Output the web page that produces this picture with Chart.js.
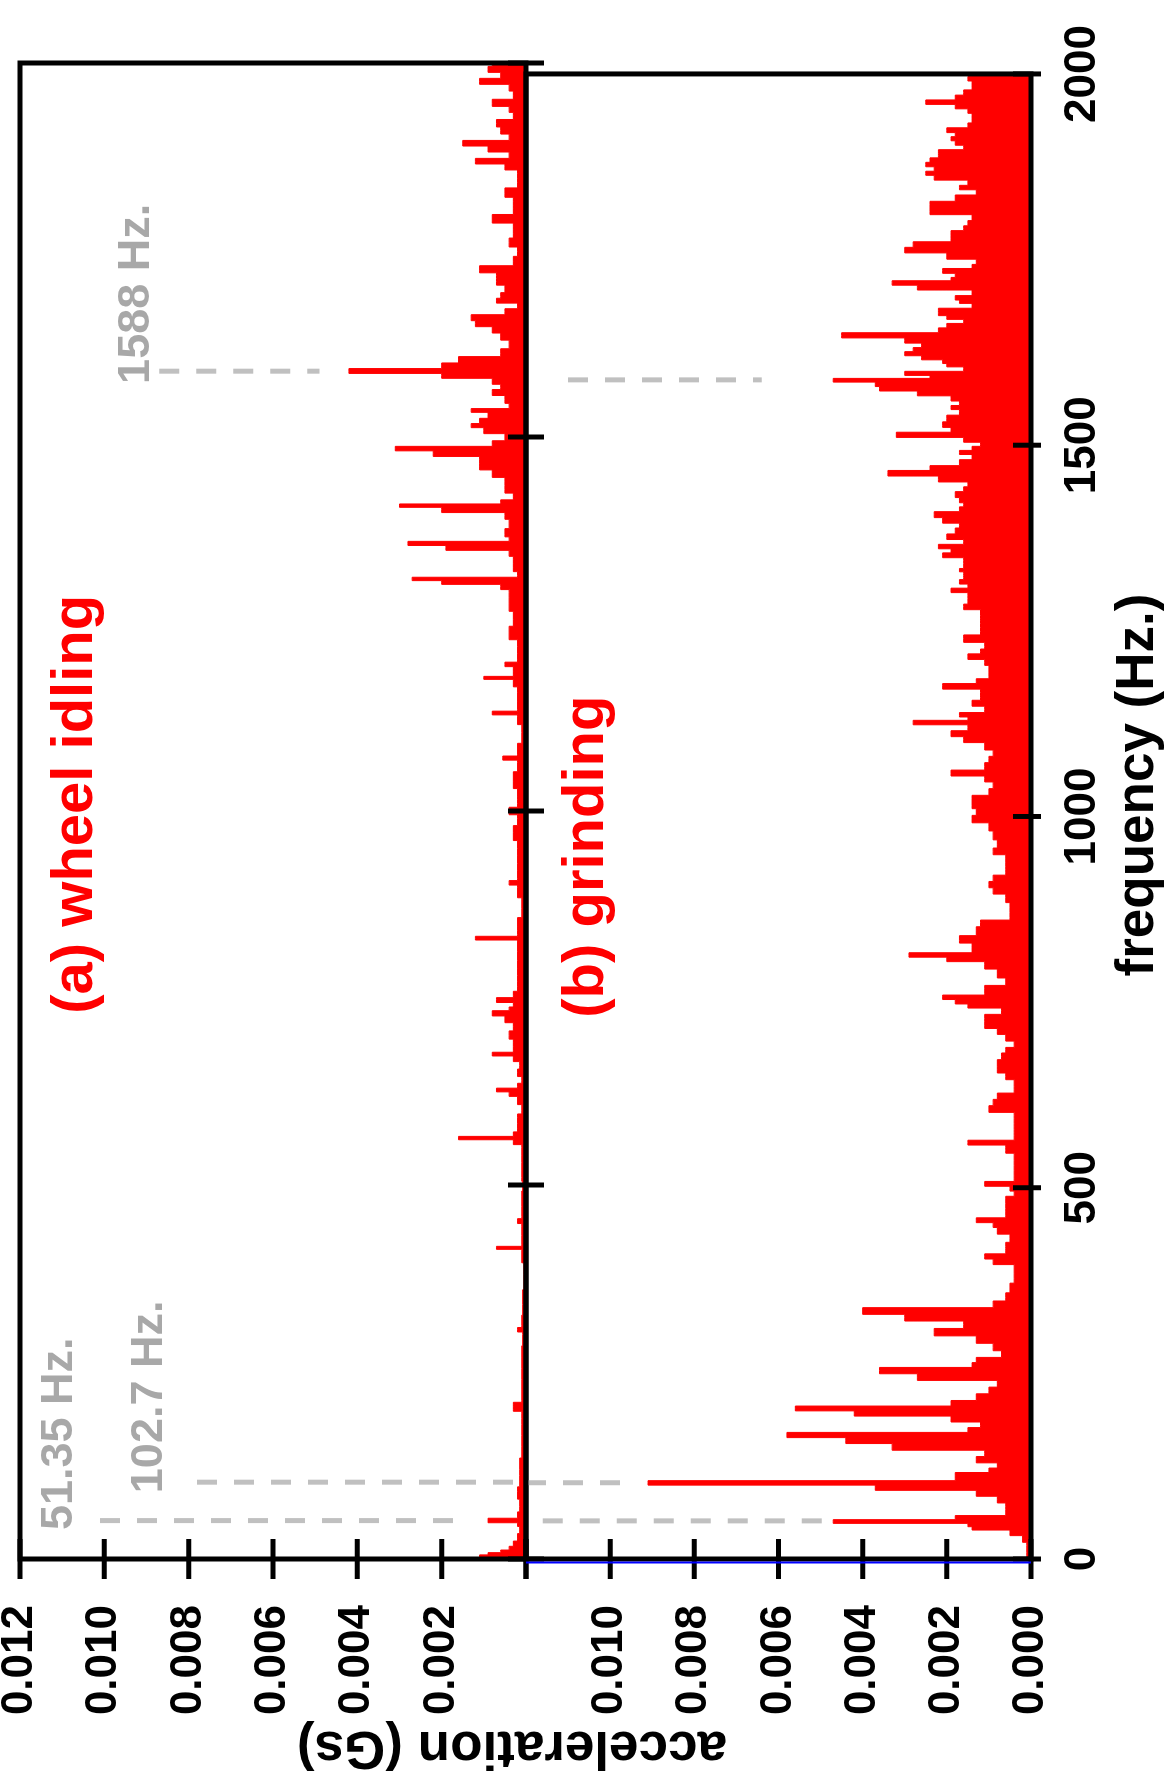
<!DOCTYPE html>
<html>
<head>
<meta charset="utf-8">
<title>acceleration spectra</title>
<script src="https://cdn.jsdelivr.net/npm/chart.js@4.4.1/dist/chart.umd.min.js"></script>
<style>
  html, body { margin: 0; padding: 0; background: #fff; }
  body { width: 1168px; height: 1785px; overflow: hidden; position: relative; }
  /* the figure is laid out landscape, then turned a quarter turn counter-clockwise */
  #figure {
    position: absolute; left: 0; top: 0;
    width: 1785px; height: 1168px;
    transform-origin: 0 0;
    transform: translateY(1785px) rotate(-90deg);
  }
  #figure canvas { position: absolute; left: 0; top: 0; }
</style>
</head>
<body>
<div id="figure">
  <canvas id="panelA" width="1785" height="1168"></canvas>
  <canvas id="panelB" width="1785" height="1168"></canvas>
</div>
<script>
// (a) wheel idling
const freqA = [0, 4, 7, 10, 14, 20, 28, 40, 47, 50, 53, 56, 70, 90, 103, 120, 150, 180, 195, 200,
  207, 212, 240, 270, 300, 307, 312, 340, 380, 412, 416, 420, 445, 452, 458, 484, 500, 510, 530, 550,
  558, 563, 567, 575, 590, 600, 615, 622, 627, 632, 640, 650, 660, 670, 675, 680, 690, 700, 712, 722,
  730, 736, 740, 748, 753, 765, 780, 800, 825, 830, 835, 845, 870, 898, 904, 910, 930, 950, 971, 990,
  1000, 1010, 1020, 1040, 1065, 1071, 1076, 1105, 1126, 1131, 1136, 1158, 1174, 1178, 1182, 1190, 1196, 1202, 1220, 1238,
  1256, 1278, 1292, 1300, 1306, 1310, 1315, 1325, 1336, 1345, 1352, 1358, 1363, 1370, 1385, 1395, 1403, 1409, 1412, 1420,
  1430, 1440, 1452, 1460, 1470, 1478, 1485, 1490, 1500, 1509, 1516, 1520, 1530, 1536, 1540, 1550, 1561, 1566, 1575, 1582,
  1588, 1595, 1603, 1612, 1624, 1635, 1643, 1652, 1659, 1668, 1675, 1683, 1688, 1698, 1708, 1716, 1723, 1735, 1748, 1760,
  1772, 1782, 1790, 1805, 1815, 1826, 1840, 1852, 1862, 1868, 1877, 1885, 1893, 1900, 1910, 1919, 1930, 1938, 1946, 1957,
  1968, 1975, 1984, 1991, 2000];
const accA = [0.0011, 0.0011, 0.0009, 0.0006, 0.0004, 0.0003, 0.0002, 0.00015, 0.0002, 0.0009, 0.0009, 0.0002, 0.00015, 0.0002, 0.00015, 0.00015, 0.0001, 0.0001, 0.0001, 0.0003,
  0.0003, 0.0001, 0.0001, 0.0001, 0.00008, 0.0002, 0.0001, 0.00008, 0.00005, 0.0001, 0.0007, 0.0001, 0.0001, 0.0002, 0.0001, 0.0001, 0.00008, 0.0001, 0.0001, 0.0001,
  0.0003, 0.0016, 0.0003, 0.0002, 0.0002, 0.0001, 0.0002, 0.0004, 0.0007, 0.0002, 0.0001, 0.0002, 0.00015, 0.0003, 0.0008, 0.0003, 0.0003, 0.0004, 0.0003, 0.0005,
  0.0008, 0.0004, 0.0003, 0.0007, 0.0003, 0.0002, 0.0002, 0.0002, 0.0002, 0.0012, 0.0002, 0.0002, 0.0001, 0.0002, 0.0004, 0.0002, 0.0002, 0.0002, 0.0003, 0.0002,
  0.0004, 0.0002, 0.0002, 0.0003, 0.0002, 0.00055, 0.0002, 0.0001, 0.0002, 0.0008, 0.0002, 0.0002, 0.0003, 0.0010, 0.0003, 0.0003, 0.0005, 0.0002, 0.0002, 0.0004,
  0.0003, 0.0004, 0.0004, 0.0006, 0.0020, 0.0027, 0.0002, 0.0003, 0.0003, 0.0004, 0.0019, 0.0028, 0.0004, 0.0005, 0.0004, 0.0005, 0.0020, 0.0030, 0.0006, 0.0003,
  0.0005, 0.0005, 0.0008, 0.0011, 0.0011, 0.0022, 0.0031, 0.0008, 0.0005, 0.0010, 0.0013, 0.0011, 0.0009, 0.0013, 0.0004, 0.0005, 0.0008, 0.0006, 0.0008, 0.0020,
  0.0042, 0.0020, 0.0016, 0.0006, 0.0004, 0.0006, 0.0008, 0.0012, 0.0013, 0.0005, 0.0002, 0.0007, 0.0006, 0.0005, 0.0007, 0.0007, 0.0011, 0.0003, 0.0002, 0.0004,
  0.0003, 0.0003, 0.0008, 0.0003, 0.0003, 0.0005, 0.0002, 0.0002, 0.0005, 0.0012, 0.0004, 0.0009, 0.0015, 0.0004, 0.0006, 0.0007, 0.0003, 0.0004, 0.0008, 0.0003,
  0.0004, 0.0011, 0.0006, 0.0009, 0.0008];

// (b) grinding
const freqB = [0, 9, 18, 27, 36, 42, 45, 51, 55, 62, 71, 80, 89, 96, 103, 108, 113, 120, 125, 134,
  142, 151, 160, 167, 174, 180, 189, 196, 203, 209, 218, 227, 236, 245, 254, 262, 267, 276, 285, 296,
  305, 316, 325, 334, 343, 352, 365, 378, 392, 401, 407, 415, 421, 432, 443, 450, 456, 463, 472, 485,
  492, 499, 505, 512, 517, 530, 543, 550, 554, 561, 567, 574, 583, 590, 597, 606, 615, 623, 632, 641,
  650, 659, 668, 677, 686, 692, 703, 710, 719, 728, 739, 745, 750, 757, 762, 768, 777, 788, 801, 808,
  813, 820, 826, 833, 846, 857, 864, 877, 891, 900, 908, 917, 925, 933, 944, 953, 962, 975, 986, 997,
  1006, 1015, 1024, 1033, 1042, 1051, 1058, 1067, 1078, 1084, 1095, 1104, 1111, 1120, 1127, 1132, 1136, 1144, 1153, 1160,
  1167, 1176, 1182, 1189, 1200, 1207, 1216, 1222, 1229, 1240, 1249, 1260, 1267, 1274, 1283, 1289, 1298, 1305, 1310, 1316,
  1322, 1327, 1332, 1336, 1345, 1352, 1358, 1363, 1370, 1376, 1385, 1392, 1398, 1407, 1414, 1420, 1425, 1434, 1441, 1447,
  1454, 1463, 1469, 1476, 1485, 1490, 1496, 1501, 1507, 1514, 1521, 1527, 1536, 1545, 1551, 1556, 1563, 1570, 1576, 1582,
  1588, 1592, 1596, 1603, 1608, 1612, 1618, 1623, 1629, 1634, 1641, 1648, 1655, 1661, 1667, 1672, 1677, 1681, 1688, 1694,
  1697, 1706, 1712, 1719, 1724, 1728, 1735, 1741, 1746, 1755, 1763, 1770, 1778, 1786, 1792, 1799, 1806, 1815, 1824, 1833,
  1841, 1847, 1853, 1861, 1866, 1872, 1878, 1884, 1890, 1895, 1901, 1907, 1913, 1918, 1924, 1931, 1937, 1944, 1950, 1956,
  1962, 1968, 1975, 1982, 1988, 1993, 2000];
const accB = [0.0001, 0.0001, 0.0001, 0.0002, 0.0005, 0.0014, 0.0015, 0.0047, 0.0018, 0.0006, 0.0006, 0.0008, 0.0013, 0.0037, 0.0091, 0.0018, 0.0018, 0.0010, 0.0008, 0.0013,
  0.0011, 0.0033, 0.0044, 0.0058, 0.0015, 0.0012, 0.0019, 0.0042, 0.0056, 0.0019, 0.0013, 0.0010, 0.0008, 0.0027, 0.0036, 0.0014, 0.0013, 0.0007, 0.0009, 0.0013,
  0.0023, 0.0016, 0.0030, 0.0040, 0.0009, 0.0006, 0.0005, 0.0004, 0.0004, 0.0009, 0.0011, 0.0006, 0.0006, 0.0005, 0.0008, 0.0009, 0.0013, 0.0006, 0.0006, 0.0006,
  0.0004, 0.0005, 0.0011, 0.0004, 0.0004, 0.0004, 0.0004, 0.0006, 0.0006, 0.0015, 0.0004, 0.0004, 0.0004, 0.0004, 0.0004, 0.0010, 0.0009, 0.0008, 0.0004, 0.0004,
  0.0006, 0.0008, 0.0008, 0.0007, 0.0006, 0.0004, 0.0006, 0.0008, 0.0011, 0.0011, 0.0007, 0.0015, 0.0018, 0.0021, 0.0011, 0.0011, 0.0006, 0.0008, 0.0011, 0.0020,
  0.0029, 0.0014, 0.0014, 0.0017, 0.0013, 0.0012, 0.0005, 0.0005, 0.0006, 0.0009, 0.0010, 0.0009, 0.0006, 0.0006, 0.0006, 0.0009, 0.0008, 0.0009, 0.0010, 0.0014,
  0.0013, 0.0014, 0.0014, 0.0010, 0.0009, 0.0011, 0.0019, 0.0011, 0.0010, 0.0009, 0.0011, 0.0016, 0.0019, 0.0015, 0.0028, 0.0015, 0.0017, 0.0011, 0.0014, 0.0012,
  0.0012, 0.0021, 0.0013, 0.0010, 0.0010, 0.0011, 0.0015, 0.0012, 0.0011, 0.0016, 0.0012, 0.0012, 0.0012, 0.0012, 0.0016, 0.0015, 0.0015, 0.0019, 0.0015, 0.0017,
  0.0016, 0.0016, 0.0017, 0.0016, 0.0016, 0.0021, 0.0019, 0.0022, 0.0016, 0.0020, 0.0018, 0.0017, 0.0021, 0.0023, 0.0017, 0.0016, 0.0017, 0.0018, 0.0016, 0.0015,
  0.0022, 0.0034, 0.0024, 0.0017, 0.0014, 0.0017, 0.0014, 0.0012, 0.0016, 0.0032, 0.0019, 0.0021, 0.0020, 0.0017, 0.0019, 0.0017, 0.0019, 0.0027, 0.0036, 0.0037,
  0.0047, 0.0024, 0.0030, 0.0016, 0.0020, 0.0021, 0.0026, 0.0030, 0.0028, 0.0026, 0.0030, 0.0045, 0.0022, 0.0020, 0.0016, 0.0020, 0.0022, 0.0022, 0.0014, 0.0017,
  0.0018, 0.0014, 0.0027, 0.0033, 0.0019, 0.0018, 0.0021, 0.0014, 0.0013, 0.0020, 0.0030, 0.0028, 0.0019, 0.0019, 0.0016, 0.0015, 0.0014, 0.0024, 0.0024, 0.0018,
  0.0013, 0.0017, 0.0015, 0.0023, 0.0025, 0.0023, 0.0025, 0.0024, 0.0022, 0.0022, 0.0016, 0.0018, 0.0019, 0.0018, 0.0020, 0.0015, 0.0014, 0.0014, 0.0015, 0.0018,
  0.0025, 0.0018, 0.0016, 0.0014, 0.0014, 0.0015, 0.0014];

const freqTicks = [0, 500, 1000, 1500, 2000];
const freqTickLabels = ["0", "500", "1000", "1500", "2000"];
const accTicks = [0, 0.002, 0.004, 0.006, 0.008, 0.010, 0.012];
const accLabelsA = ["", "0.002", "0.004", "0.006", "0.008", "0.010", "0.012"];
const accLabelsB = ["0.000", "0.002", "0.004", "0.006", "0.008", "0.010", ""];

// grey guides at the labelled peaks: [frequency, from, to] in each panel's units
const peakGuidesA = [[51.35, 0.0101, 0.0017], [102.7, 0.0078, 0], [1588, 0.0087, 0.0049]];
const peakGuidesB = [[51.35, 0.0116, 0.0049], [102.7, 0.012, 0.0096], [1588, 0.0110, 0.0064]];
const peakNames = ["51.35 Hz.", "102.7 Hz.", "1588 Hz."];

// layout (landscape coordinates, before the quarter turn)
const W = 1785, H = 1168;
const PLOT = { left: 226, right: 1722, top: 20, mid: 526, bottom: 1031 };
const FONT = '"Liberation Sans", Arial, Helvetica, sans-serif';
const RED = "#ff0000";

function seg(ctx, x0, y0, x1, y1) {
  ctx.beginPath();
  ctx.moveTo(x0, y0);
  ctx.lineTo(x1, y1);
  ctx.stroke();
}

function decor(panel) {
  return {
    id: "decor" + panel.name,
    afterDatasetsDraw(chart) {
      const { ctx, chartArea: a } = chart;
      const x = chart.scales.x, y = chart.scales.y;
      ctx.save();

      ctx.strokeStyle = "#c0c0c0";
      ctx.lineWidth = 5;
      ctx.setLineDash([20, 17]);
      panel.guides.forEach(([f, v0, v1]) => {
        const px = x.getPixelForValue(f);
        seg(ctx, px, y.getPixelForValue(v0), px, y.getPixelForValue(v1));
      });
      ctx.setLineDash([]);

      ctx.strokeStyle = "#000";
      ctx.lineWidth = 5;
      ctx.strokeRect(a.left, a.top, a.width, a.height);
      accTicks.forEach(v => {
        const py = y.getPixelForValue(v);
        seg(ctx, a.left - 20, py, a.left + 20, py);
      });
      freqTicks.forEach(f => {
        const px = x.getPixelForValue(f);
        seg(ctx, px, a.bottom - 18, px, a.bottom + panel.tickOut);
      });

      ctx.textAlign = "left";
      ctx.textBaseline = "alphabetic";
      panel.texts.forEach(t => {
        ctx.font = `bold ${t.size}px ${FONT}`;
        ctx.fillStyle = t.color;
        ctx.fillText(t.text, x.getPixelForValue(t.f), y.getPixelForValue(t.v));
      });

      if (panel.extra) panel.extra(ctx, a);
      ctx.restore();
    }
  };
}

function makeChart(id, freqs, accs, labels, panel, xOpts, padding) {
  return new Chart(document.getElementById(id), {
    type: "line",
    data: {
      datasets: [{
        data: freqs.map((f, i) => ({ x: f, y: accs[i] })),
        borderColor: RED,
        backgroundColor: RED,
        borderWidth: 1,
        fill: "origin",
        stepped: "middle",
        pointRadius: 0
      }]
    },
    options: {
      responsive: false,
      animation: false,
      devicePixelRatio: 1,
      layout: { padding },
      plugins: { legend: { display: false }, tooltip: { enabled: false } },
      scales: {
        x: xOpts,
        y: {
          type: "linear",
          min: 0,
          max: 0.012,
          afterBuildTicks: s => { s.ticks = accTicks.map(v => ({ value: v })); },
          afterFit: s => {
            s.width = PLOT.left;
            s.paddingTop = 0;
            s.paddingBottom = 0;
          },
          ticks: {
            callback: (v, i) => labels[i],
            color: "#000",
            padding: 46,
            font: { family: FONT, size: 44, weight: "bold", lineHeight: 0.8 }
          },
          grid: { display: false, drawTicks: false },
          border: { display: false }
        }
      }
    },
    plugins: [decor(panel)]
  });
}

makeChart("panelA", freqA, accA, accLabelsA, {
  name: "A",
  guides: peakGuidesA,
  tickOut: 18,
  texts: [
    { text: "(a) wheel idling", f: 729, v: 0.01029, size: 58, color: RED },
    { text: peakNames[0], f: 38.7, v: 0.01076, size: 45, color: "#a8a8a8" },
    { text: peakNames[1], f: 88, v: 0.00863, size: 45, color: "#a8a8a8" },
    { text: peakNames[2], f: 1571, v: 0.00893, size: 45, color: "#a8a8a8" }
  ]
}, { type: "linear", min: 0, max: 2000, display: false },
   { left: 0, top: PLOT.top, right: W - PLOT.right, bottom: H - PLOT.mid });

makeChart("panelB", freqB, accB, accLabelsB, {
  name: "B",
  guides: peakGuidesB,
  tickOut: 10,
  texts: [
    { text: "(b) grinding", f: 729, v: 0.01017, size: 58, color: RED }
  ],
  extra(ctx, a) {
    ctx.strokeStyle = "#0000ff";
    ctx.lineWidth = 2;
    seg(ctx, a.left - 3.5, a.top, a.left - 3.5, a.bottom);

    ctx.fillStyle = "#000";
    ctx.font = `bold 53px ${FONT}`;
    ctx.textAlign = "center";
    ctx.textBaseline = "middle";
    ctx.fillText("frequency (Hz.)", 1000, 1138);

    ctx.save();
    ctx.translate(53, 512);
    ctx.rotate(-Math.PI / 2);
    ctx.textBaseline = "alphabetic";
    ctx.fillText("acceleration (Gs)", 0, 0);
    ctx.restore();
  }
}, {
  type: "linear",
  min: 0,
  max: 2000,
  afterBuildTicks: s => { s.ticks = freqTicks.map(v => ({ value: v })); },
  afterFit: s => { s.height = H - PLOT.bottom; },
  ticks: {
    callback: (v, i) => freqTickLabels[i],
    color: "#000",
    padding: 25,
    autoSkip: false,
    maxRotation: 0,
    font: { family: FONT, size: 44, weight: "bold", lineHeight: 1.2 }
  },
  grid: { display: false, drawTicks: false },
  border: { display: false }
}, { left: 0, top: PLOT.mid, right: W - PLOT.right, bottom: 0 });
</script>
</body>
</html>
